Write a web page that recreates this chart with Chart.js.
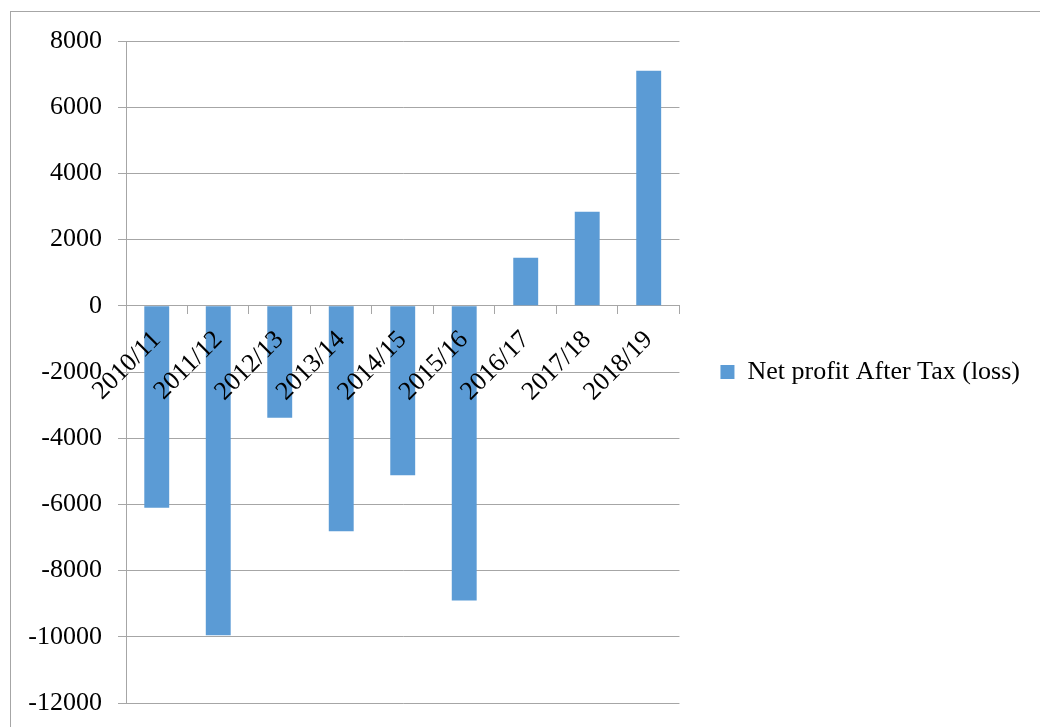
<!DOCTYPE html>
<html>
<head>
<meta charset="utf-8">
<title>Net profit After Tax (loss)</title>
<script src="https://cdn.jsdelivr.net/npm/chart.js@4/dist/chart.umd.min.js"></script>
<style>
  html, body { margin: 0; padding: 0; background: #ffffff; }
  canvas { display: block; }
</style>
</head>
<body>
<canvas id="chart" width="1040" height="727"></canvas>
<script>
// Financial years and net profit after tax (negative = loss)
const categories = ['2010/11', '2011/12', '2012/13', '2013/14', '2014/15', '2015/16', '2016/17', '2017/18', '2018/19'];
const netProfit = [-6100, -9950, -3380, -6810, -5120, -8900, 1450, 2840, 7100];
const seriesName = 'Net profit After Tax (loss)';
const yTicks = [8000, 6000, 4000, 2000, 0, -2000, -4000, -6000, -8000, -10000, -12000];

const serif = '"Liberation Serif", "Times New Roman", Times, serif';
const gridGray = '#a6a6a6';
const barBlue = '#5b9bd5';

// White background and the light frame around the chart
const framePlugin = {
  id: 'frame',
  beforeDraw(chart) {
    const ctx = chart.ctx;
    ctx.save();
    ctx.fillStyle = '#ffffff';
    ctx.fillRect(0, 0, chart.width, chart.height);
    ctx.strokeStyle = gridGray;
    ctx.lineWidth = 1;
    ctx.strokeRect(10.5, 11.5, chart.width + 40, chart.height + 40);
    ctx.restore();
  }
};

new Chart(document.getElementById('chart'), {
  type: 'bar',
  data: {
    labels: categories,
    datasets: [{
      label: seriesName,
      data: netProfit,
      backgroundColor: barBlue,
      borderWidth: 0,
      categoryPercentage: 1,
      barPercentage: 0.405
    }]
  },
  options: {
    responsive: false,
    animation: false,
    layout: { padding: { top: 41, bottom: 24, left: 0, right: 10 } },
    plugins: {
      tooltip: { enabled: false },
      legend: {
        position: 'right',
        maxWidth: 420,
        labels: {
          boxWidth: 14,
          boxHeight: 14,
          padding: 41,
          color: '#000000',
          font: { family: serif, size: 26 }
        }
      }
    },
    scales: {
      x: {
        position: { y: 0 },
        offset: true,
        // the axis sits on the zero line, so its labels need no extra room
        afterFit(scale) {
          scale.paddingTop = 0;
          scale.paddingBottom = 0;
          scale.paddingLeft = 0;
          scale.paddingRight = 0;
        },
        grid: {
          offset: true,
          drawOnChartArea: false,
          drawTicks: true,
          tickLength: 8,
          color: gridGray
        },
        border: { display: true, color: gridGray },
        ticks: {
          z: 1,
          autoSkip: false,
          minRotation: 45,
          maxRotation: 45,
          padding: 11,
          color: '#000000',
          font: { family: serif, size: 26 }
        }
      },
      y: {
        min: Math.min(...yTicks),
        max: Math.max(...yTicks),
        // fixed axis width; the plot area keeps the layout padding exactly
        afterFit(scale) {
          scale.width = 126;
          scale.paddingTop = 0;
          scale.paddingBottom = 0;
        },
        grid: { color: gridGray, tickLength: 8 },
        border: { display: true, color: gridGray },
        ticks: {
          stepSize: 2000,
          padding: 16,
          color: '#000000',
          font: { family: serif, size: 26 },
          callback: (v) => String(v)
        }
      }
    }
  },
  plugins: [framePlugin]
});
</script>
</body>
</html>
